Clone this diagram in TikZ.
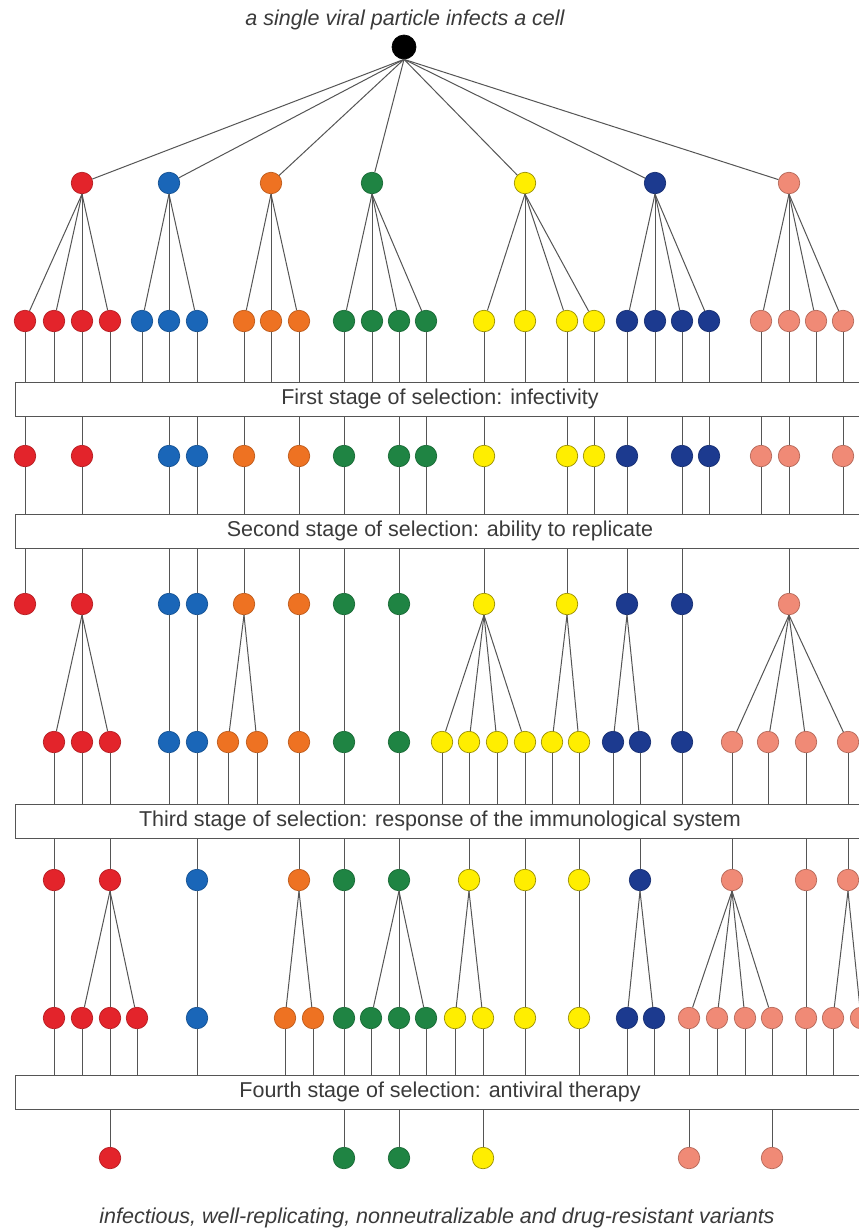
\documentclass[tikz,border=0pt]{standalone}
\usepackage{fontspec}
\setmainfont{Liberation Sans}
\definecolor{cRed}{HTML}{E3242B}
\definecolor{cBlue}{HTML}{1A66B8}
\definecolor{cOrange}{HTML}{EE7222}
\definecolor{cGreen}{HTML}{1F8443}
\definecolor{cYellow}{HTML}{FFEE00}
\definecolor{cNavy}{HTML}{1C3A8F}
\definecolor{cSalmon}{HTML}{F08A76}
\definecolor{cLine}{HTML}{555555}
\definecolor{cText}{HTML}{3A3A3A}
\tikzset{vp/.append style={minimum size=21.5pt, circle, inner sep=0pt, line width=0.7pt}}
\tikzset{rd/.append style={fill=cRed, draw=cRed!80!black}}
\tikzset{bl/.append style={fill=cBlue, draw=cBlue!80!black}}
\tikzset{og/.append style={fill=cOrange, draw=cOrange!80!black}}
\tikzset{gn/.append style={fill=cGreen, draw=cGreen!80!black}}
\tikzset{yl/.append style={fill=cYellow, draw=cYellow!60!black}}
\tikzset{nv/.append style={fill=cNavy, draw=cNavy!80!black}}
\tikzset{sm/.append style={fill=cSalmon, draw=cSalmon!75!black}}
\tikzset{stage/.append style={draw=cLine, fill=white, line width=0.9pt, minimum width=850pt, minimum height=34pt, inner sep=0pt, text=cText, font=\fontsize{21.5}{24}\selectfont}}
\tikzset{caption/.append style={text=cText, font=\itshape\fontsize{21.5}{24}\selectfont}}
\tikzset{every edge/.append style={draw=cLine, line width=1pt}}

\begin{document}
\begin{tikzpicture}[x=1pt,y=-1pt]
                \clip (0,0) rectangle (859,1229);
                \fill[white] (0,0) rectangle (859,1229);
                % captions
                \node[caption] (top) at (405,20) {a single viral particle infects a cell};
                \node[caption] (bot) at (437,1218) {infectious, well-replicating, nonneutralizable and drug-resistant variants};
                % stages
                \node[stage] (s1) at (440,399) {First stage of selection: infectivity};
                \node[stage] (s2) at (440,531) {Second stage of selection: ability to replicate};
                \node[stage] (s3) at (440,821) {Third stage of selection: response of the immunological system};
                \node[stage] (s4) at (440,1092) {Fourth stage of selection: antiviral therapy};
                % first particle and its progeny
                \node[vp,fill=black,draw=black,minimum size=24pt] (r0) at (404,47) {};
                \node[vp,rd] (a1) at (82,183) {};
                \node[vp,bl] (a2) at (169,183) {};
                \node[vp,og] (a3) at (271,183) {};
                \node[vp,gn] (a4) at (372,183) {};
                \node[vp,yl] (a5) at (525,183) {};
                \node[vp,nv] (a6) at (655,183) {};
                \node[vp,sm] (a7) at (789,183) {};
                % second generation
                \node[vp,rd] (b1) at (25,321) {}; \node[vp,rd] (b2) at (54,321) {}; \node[vp,rd] (b3) at (82,321) {}; \node[vp,rd] (b4) at (110,321) {};
                \node[vp,bl] (b5) at (142,321) {}; \node[vp,bl] (b6) at (169,321) {}; \node[vp,bl] (b7) at (197,321) {};
                \node[vp,og] (b8) at (244,321) {}; \node[vp,og] (b9) at (271,321) {}; \node[vp,og] (b10) at (299,321) {};
                \node[vp,gn] (b11) at (344,321) {}; \node[vp,gn] (b12) at (372,321) {}; \node[vp,gn] (b13) at (399,321) {}; \node[vp,gn] (b14) at (426,321) {};
                \node[vp,yl] (b15) at (484,321) {}; \node[vp,yl] (b16) at (525,321) {}; \node[vp,yl] (b17) at (567,321) {}; \node[vp,yl] (b18) at (594,321) {};
                \node[vp,nv] (b19) at (627,321) {}; \node[vp,nv] (b20) at (655,321) {}; \node[vp,nv] (b21) at (682,321) {}; \node[vp,nv] (b22) at (709,321) {};
                \node[vp,sm] (b23) at (761,321) {}; \node[vp,sm] (b24) at (789,321) {}; \node[vp,sm] (b25) at (816,321) {}; \node[vp,sm] (b26) at (843,321) {};
                % after infectivity
                \node[vp,rd] (c1) at (25,456) {}; \node[vp,rd] (c2) at (82,456) {};
                \node[vp,bl] (c3) at (169,456) {}; \node[vp,bl] (c4) at (197,456) {};
                \node[vp,og] (c5) at (244,456) {}; \node[vp,og] (c6) at (299,456) {};
                \node[vp,gn] (c7) at (344,456) {}; \node[vp,gn] (c8) at (399,456) {}; \node[vp,gn] (c9) at (426,456) {};
                \node[vp,yl] (c10) at (484,456) {}; \node[vp,yl] (c11) at (567,456) {}; \node[vp,yl] (c12) at (594,456) {};
                \node[vp,nv] (c13) at (627,456) {}; \node[vp,nv] (c14) at (682,456) {}; \node[vp,nv] (c15) at (709,456) {};
                \node[vp,sm] (c16) at (761,456) {}; \node[vp,sm] (c17) at (789,456) {}; \node[vp,sm] (c18) at (843,456) {};
                % after replication
                \node[vp,rd] (d1) at (25,604) {}; \node[vp,rd] (d2) at (82,604) {};
                \node[vp,bl] (d3) at (169,604) {}; \node[vp,bl] (d4) at (197,604) {};
                \node[vp,og] (d5) at (244,604) {}; \node[vp,og] (d6) at (299,604) {};
                \node[vp,gn] (d7) at (344,604) {}; \node[vp,gn] (d8) at (399,604) {};
                \node[vp,yl] (d9) at (484,604) {}; \node[vp,yl] (d10) at (567,604) {};
                \node[vp,nv] (d11) at (627,604) {}; \node[vp,nv] (d12) at (682,604) {};
                \node[vp,sm] (d13) at (789,604) {};
                % third generation
                \node[vp,rd] (e1) at (54,742) {}; \node[vp,rd] (e2) at (82,742) {}; \node[vp,rd] (e3) at (110,742) {};
                \node[vp,bl] (e4) at (169,742) {}; \node[vp,bl] (e5) at (197,742) {};
                \node[vp,og] (e6) at (228,742) {}; \node[vp,og] (e7) at (257,742) {}; \node[vp,og] (e8) at (299,742) {};
                \node[vp,gn] (e9) at (344,742) {}; \node[vp,gn] (e10) at (399,742) {};
                \node[vp,yl] (e11) at (442,742) {}; \node[vp,yl] (e12) at (469,742) {}; \node[vp,yl] (e13) at (497,742) {}; \node[vp,yl] (e14) at (525,742) {};
                \node[vp,yl] (e15) at (552,742) {}; \node[vp,yl] (e16) at (579,742) {};
                \node[vp,nv] (e17) at (613,742) {}; \node[vp,nv] (e18) at (640,742) {}; \node[vp,nv] (e19) at (682,742) {};
                \node[vp,sm] (e20) at (732,742) {}; \node[vp,sm] (e21) at (768,742) {}; \node[vp,sm] (e22) at (806,742) {}; \node[vp,sm] (e23) at (848,742) {};
                % after immune response
                \node[vp,rd] (f1) at (54,880) {}; \node[vp,rd] (f2) at (110,880) {};
                \node[vp,bl] (f3) at (197,880) {};
                \node[vp,og] (f4) at (299,880) {};
                \node[vp,gn] (f5) at (344,880) {}; \node[vp,gn] (f6) at (399,880) {};
                \node[vp,yl] (f7) at (469,880) {}; \node[vp,yl] (f8) at (525,880) {}; \node[vp,yl] (f9) at (579,880) {};
                \node[vp,nv] (f10) at (640,880) {};
                \node[vp,sm] (f11) at (732,880) {}; \node[vp,sm] (f12) at (806,880) {}; \node[vp,sm] (f13) at (848,880) {};
                % fourth generation
                \node[vp,rd] (g1) at (54,1018) {}; \node[vp,rd] (g2) at (82,1018) {}; \node[vp,rd] (g3) at (110,1018) {}; \node[vp,rd] (g4) at (137,1018) {};
                \node[vp,bl] (g5) at (197,1018) {};
                \node[vp,og] (g6) at (285,1018) {}; \node[vp,og] (g7) at (313,1018) {};
                \node[vp,gn] (g8) at (344,1018) {}; \node[vp,gn] (g9) at (371,1018) {}; \node[vp,gn] (g10) at (399,1018) {}; \node[vp,gn] (g11) at (426,1018) {};
                \node[vp,yl] (g12) at (455,1018) {}; \node[vp,yl] (g13) at (483,1018) {}; \node[vp,yl] (g14) at (525,1018) {}; \node[vp,yl] (g15) at (579,1018) {};
                \node[vp,nv] (g16) at (627,1018) {}; \node[vp,nv] (g17) at (654,1018) {};
                \node[vp,sm] (g18) at (689,1018) {}; \node[vp,sm] (g19) at (717,1018) {}; \node[vp,sm] (g20) at (745,1018) {}; \node[vp,sm] (g21) at (772,1018) {};
                \node[vp,sm] (g22) at (806,1018) {}; \node[vp,sm] (g23) at (833,1018) {}; \node[vp,sm] (g24) at (861,1018) {};
                % survivors of therapy
                \node[vp,rd] (h1) at (110,1158) {};
                \node[vp,gn] (h2) at (344,1158) {}; \node[vp,gn] (h3) at (399,1158) {};
                \node[vp,yl] (h4) at (483,1158) {};
                \node[vp,sm] (h5) at (689,1158) {}; \node[vp,sm] (h6) at (772,1158) {};
                % lineages
                \path (r0.south) edge (a1) edge (a2) edge (a3) edge (a4) edge (a5) edge (a6) edge (a7);
                \path (a1.south) edge (b1) edge (b2) edge (b3) edge (b4);
                \path (a2.south) edge (b5) edge (b6) edge (b7);
                \path (a3.south) edge (b8) edge (b9) edge (b10);
                \path (a4.south) edge (b11) edge (b12) edge (b13) edge (b14);
                \path (a5.south) edge (b15) edge (b16) edge (b17) edge (b18);
                \path (a6.south) edge (b19) edge (b20) edge (b21) edge (b22);
                \path (a7.south) edge (b23) edge (b24) edge (b25) edge (b26);
                \foreach \n in {1,...,26} \path (b\n) edge (b\n |- s1.north);
                \foreach \n in {1,...,18} \path (s1.south -| c\n) edge (c\n);
                \foreach \n in {1,...,18} \path (c\n) edge (c\n |- s2.north);
                \foreach \n in {1,...,13} \path (s2.south -| d\n) edge (d\n);
                \path (d2.south) edge (e1) edge (e2) edge (e3);
                \path (d3.south) edge (e4);
                \path (d4.south) edge (e5);
                \path (d5.south) edge (e6) edge (e7);
                \path (d6.south) edge (e8);
                \path (d7.south) edge (e9);
                \path (d8.south) edge (e10);
                \path (d9.south) edge (e11) edge (e12) edge (e13) edge (e14);
                \path (d10.south) edge (e15) edge (e16);
                \path (d11.south) edge (e17) edge (e18);
                \path (d12.south) edge (e19);
                \path (d13.south) edge (e20) edge (e21) edge (e22) edge (e23);
                \foreach \n in {1,...,23} \path (e\n) edge (e\n |- s3.north);
                \foreach \n in {1,...,13} \path (s3.south -| f\n) edge (f\n);
                \path (f1.south) edge (g1);
                \path (f2.south) edge (g2) edge (g3) edge (g4);
                \path (f3.south) edge (g5);
                \path (f4.south) edge (g6) edge (g7);
                \path (f5.south) edge (g8);
                \path (f6.south) edge (g9) edge (g10) edge (g11);
                \path (f7.south) edge (g12) edge (g13);
                \path (f8.south) edge (g14);
                \path (f9.south) edge (g15);
                \path (f10.south) edge (g16) edge (g17);
                \path (f11.south) edge (g18) edge (g19) edge (g20) edge (g21);
                \path (f12.south) edge (g22);
                \path (f13.south) edge (g23) edge (g24);
                \foreach \n in {1,...,24} \path (g\n) edge (g\n |- s4.north);
                \foreach \n in {1,...,6} \path (s4.south -| h\n) edge (h\n);
            \end{tikzpicture}
\end{document}
